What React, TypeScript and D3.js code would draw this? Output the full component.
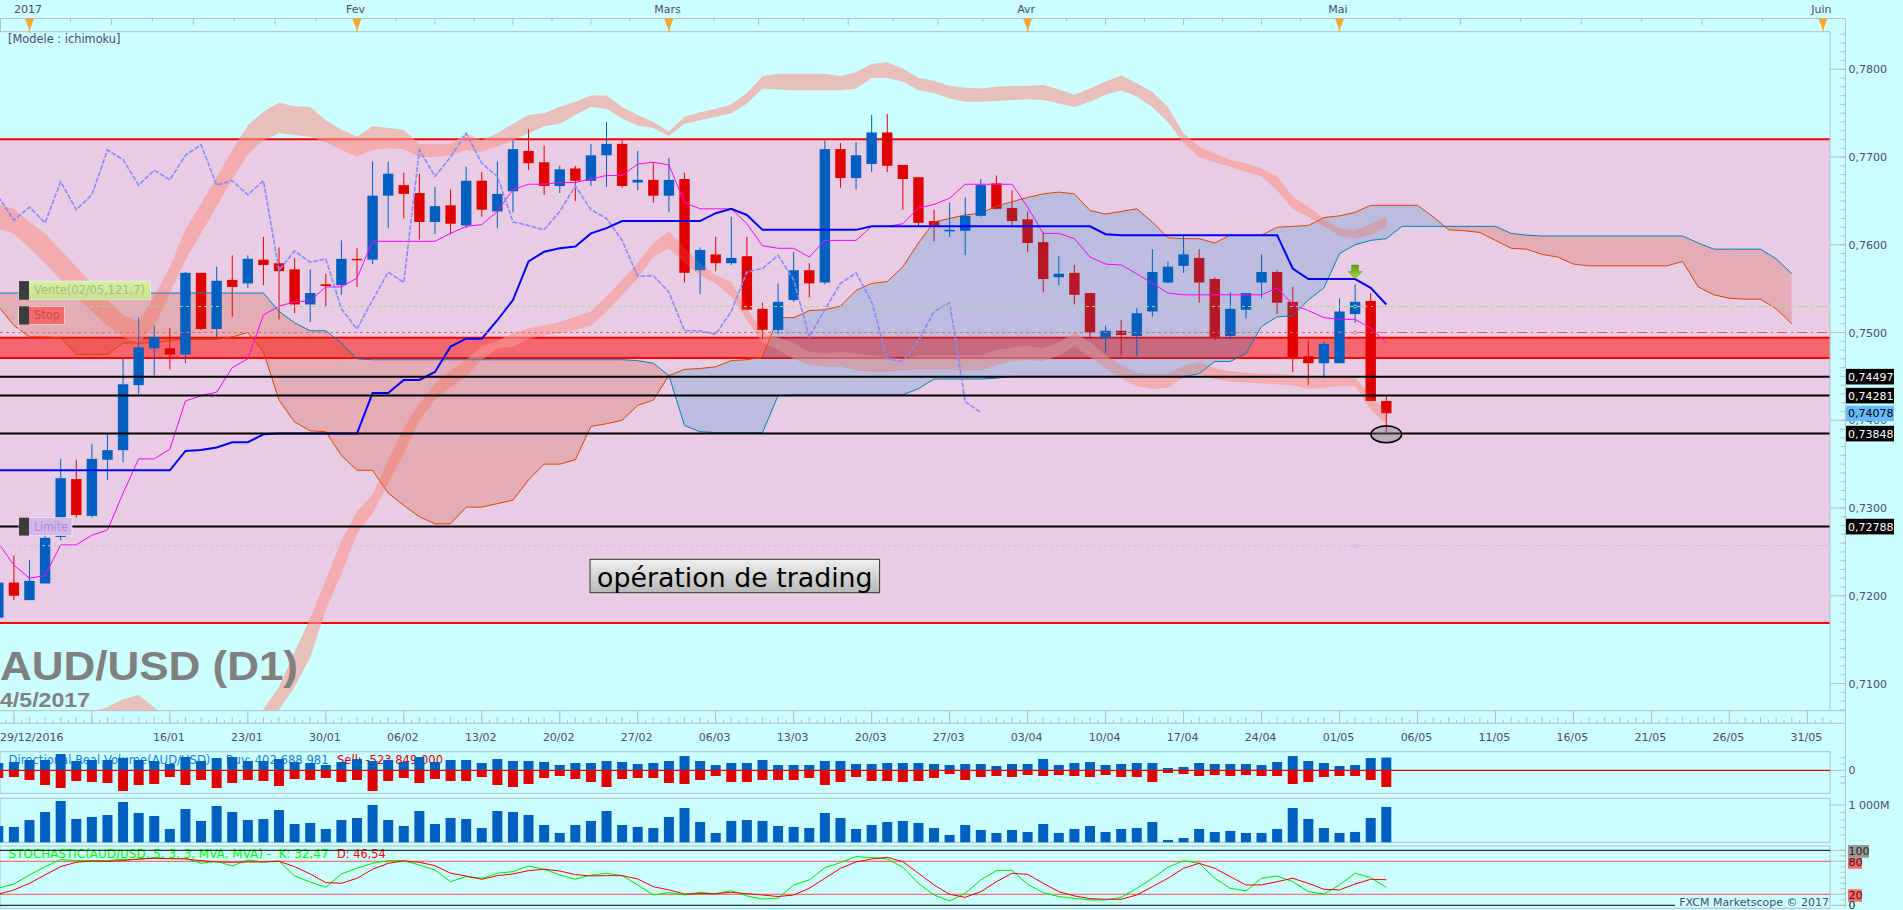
// App.tsx - AUD/USD D1 ichimoku chart (FXCM Marketscope style)
import React from 'react';
import * as d3 from 'd3';

const opens = [
  0.7175, 0.7215, 0.7195, 0.7214, 0.7267, 0.7333, 0.7291, 0.7355, 0.7366, 0.744,
  0.7482, 0.7482, 0.7475, 0.7568, 0.7504, 0.756, 0.7556, 0.7583, 0.7579, 0.7572,
  0.7532, 0.7555, 0.7554, 0.7584, 0.7583, 0.7656, 0.7668, 0.7659, 0.7626, 0.7645,
  0.7622, 0.7673, 0.7638, 0.7661, 0.7707, 0.7694, 0.7667, 0.7687, 0.7673, 0.7702,
  0.7715, 0.7671, 0.7674, 0.7656, 0.7675, 0.7571, 0.7589, 0.7579, 0.7587, 0.7527,
  0.7503, 0.7537, 0.7571, 0.7557, 0.7709, 0.7676, 0.7692, 0.7728, 0.7691, 0.7677,
  0.7627, 0.7616, 0.7616, 0.7633, 0.767, 0.7642, 0.7629, 0.7603, 0.7563, 0.7568,
  0.7545, 0.7494, 0.7502, 0.7496, 0.7524, 0.7557, 0.7576, 0.7585, 0.7561, 0.7496,
  0.7526, 0.7557, 0.7569, 0.7535, 0.7473, 0.7465, 0.7465, 0.7521, 0.7536, 0.7422,
];
const closes = [
  0.7215, 0.72, 0.7217, 0.7266, 0.7334, 0.7292, 0.7356, 0.7366, 0.7441, 0.7483,
  0.7495, 0.7475, 0.7568, 0.7504, 0.7559, 0.7552, 0.7584, 0.7577, 0.757, 0.7532,
  0.7545, 0.7553, 0.7584, 0.7583, 0.7656, 0.7681, 0.7658, 0.7626, 0.7644, 0.7624,
  0.7673, 0.764, 0.7658, 0.7709, 0.7693, 0.7667, 0.7686, 0.7673, 0.7702, 0.7715,
  0.7667, 0.7674, 0.7656, 0.7674, 0.7568, 0.7594, 0.7579, 0.7585, 0.7526, 0.7503,
  0.7535, 0.7571, 0.7556, 0.7709, 0.7676, 0.7702, 0.7728, 0.769, 0.7675, 0.7625,
  0.7622, 0.7617, 0.7633, 0.7668, 0.7641, 0.7627, 0.7602, 0.7561, 0.7567, 0.7543,
  0.75, 0.7502, 0.7497, 0.7522, 0.7569, 0.7575, 0.7589, 0.7557, 0.7495, 0.7527,
  0.7545, 0.7569, 0.7534, 0.7472, 0.7465, 0.7487, 0.7524, 0.7535, 0.7422, 0.7408,
];
const highs = [
  0.7225, 0.7246, 0.7241, 0.7271, 0.7356, 0.7355, 0.7373, 0.7384, 0.747, 0.7517,
  0.7508, 0.7505, 0.7569, 0.7568, 0.7575, 0.7588, 0.7588, 0.7609, 0.7597, 0.7585,
  0.7572, 0.7567, 0.7605, 0.7596, 0.7695, 0.7695, 0.7682, 0.7681, 0.7666, 0.7663,
  0.7689, 0.7683, 0.7695, 0.7719, 0.7732, 0.7713, 0.769, 0.769, 0.7715, 0.774,
  0.7719, 0.7707, 0.7694, 0.7699, 0.7682, 0.7597, 0.7609, 0.7632, 0.7609, 0.7534,
  0.7556, 0.7592, 0.7579, 0.7719, 0.7716, 0.7717, 0.7748, 0.7749, 0.7691, 0.7677,
  0.764, 0.7648, 0.7654, 0.7675, 0.7679, 0.7662, 0.7638, 0.7614, 0.7587, 0.7577,
  0.7545, 0.7508, 0.7514, 0.7528, 0.7595, 0.7581, 0.761, 0.7595, 0.7563, 0.7546,
  0.7545, 0.7589, 0.7571, 0.7552, 0.7491, 0.749, 0.7539, 0.7555, 0.7545, 0.7428,
];
const lows = [
  0.7168, 0.7195, 0.7195, 0.7214, 0.7263, 0.7289, 0.7289, 0.7332, 0.7352, 0.743,
  0.7451, 0.7458, 0.7465, 0.7503, 0.7494, 0.7518, 0.7551, 0.7554, 0.7515, 0.7522,
  0.7512, 0.753, 0.7543, 0.7552, 0.7578, 0.7619, 0.763, 0.7606, 0.7612, 0.7612,
  0.7619, 0.7632, 0.7619, 0.7637, 0.7685, 0.7657, 0.7659, 0.765, 0.7667, 0.7666,
  0.7665, 0.7662, 0.7648, 0.7637, 0.7557, 0.7544, 0.757, 0.7577, 0.7526, 0.7492,
  0.7498, 0.7535, 0.754, 0.7555, 0.7665, 0.7663, 0.7683, 0.7683, 0.764, 0.7621,
  0.7604, 0.7609, 0.7588, 0.7632, 0.764, 0.7621, 0.7592, 0.7546, 0.7554, 0.7532,
  0.7494, 0.7477, 0.7474, 0.7473, 0.7518, 0.7556, 0.7568, 0.7534, 0.7491, 0.7492,
  0.7516, 0.7539, 0.7521, 0.7455, 0.744, 0.7448, 0.7465, 0.7511, 0.7422, 0.7385,
];

const tenkan = [
  0.726, 0.7235, 0.722, 0.7223, 0.7258, 0.7258, 0.7269, 0.7275, 0.7317, 0.7356,
  0.7356, 0.7367, 0.7422, 0.7428, 0.7432, 0.746, 0.747, 0.752, 0.753, 0.7535,
  0.7536, 0.7552, 0.7552, 0.7562, 0.7604, 0.7604, 0.7604, 0.7604, 0.7604, 0.7613,
  0.7621, 0.7623, 0.7638, 0.7663, 0.7669, 0.7669, 0.7671, 0.7671, 0.7675, 0.7679,
  0.7679, 0.7692, 0.7694, 0.7691, 0.7648, 0.7641, 0.7641, 0.7641, 0.7624, 0.7599,
  0.7596, 0.7596, 0.7586, 0.7605, 0.7605, 0.7605, 0.7621, 0.7621, 0.7624, 0.7642,
  0.7646, 0.7653, 0.7669, 0.7669, 0.7669, 0.7669, 0.7643, 0.7613, 0.7613, 0.7607,
  0.7586, 0.7578, 0.7577, 0.7567, 0.7556, 0.7545, 0.7543, 0.7543, 0.7543, 0.7543,
  0.7543, 0.7543, 0.7551, 0.7532, 0.7525, 0.7517, 0.7515, 0.7515, 0.7505, 0.7488,
];
const kijun = [
  0.7343, 0.7343, 0.7343, 0.7343, 0.7343, 0.7343, 0.7343, 0.7343, 0.7343, 0.7343,
  0.7343, 0.7343, 0.7365, 0.7366, 0.7369, 0.7375, 0.7375, 0.7384, 0.7385, 0.7385,
  0.7385, 0.7385, 0.7385, 0.7385, 0.7431, 0.7431, 0.7446, 0.7446, 0.7455, 0.7484,
  0.7493, 0.7493, 0.7514, 0.7537, 0.7581, 0.7592, 0.7596, 0.7598, 0.7613, 0.7619,
  0.7627, 0.7627, 0.7627, 0.7627, 0.7627, 0.7627, 0.7636, 0.7641, 0.7634, 0.7617,
  0.7617, 0.7617, 0.7617, 0.7617, 0.7617, 0.7617, 0.7621, 0.7621, 0.7621, 0.7621,
  0.7621, 0.7621, 0.7621, 0.7621, 0.7621, 0.7621, 0.7621, 0.7621, 0.7621, 0.7621,
  0.7621, 0.7612, 0.7611, 0.7611, 0.7611, 0.7611, 0.7611, 0.7611, 0.7611, 0.7611,
  0.7611, 0.7611, 0.7611, 0.7573, 0.7561, 0.7561, 0.7561, 0.7561, 0.7551, 0.7532,
];
const chikou = [
  0.7655, 0.7628, 0.7643, 0.7625, 0.7672, 0.764, 0.7657, 0.7708, 0.7697, 0.7668,
  0.7685, 0.7674, 0.7702, 0.7714, 0.7668, 0.7673, 0.7657, 0.7673, 0.7571, 0.7593,
  0.758, 0.7584, 0.7527, 0.7504, 0.7537, 0.7569, 0.7557, 0.7708, 0.7678, 0.77,
  0.7727, 0.7693, 0.7678, 0.7626, 0.7622, 0.7617, 0.7638, 0.7667, 0.764, 0.763,
  0.7605, 0.7564, 0.7565, 0.7546, 0.7502, 0.7502, 0.7498, 0.7524, 0.7569, 0.7573,
  0.7588, 0.756, 0.7495, 0.7526, 0.7556, 0.7568, 0.7535, 0.747, 0.7467, 0.7491,
  0.7524, 0.7534, 0.7421, 0.7409,
];

const cloudBlue = [
  0.7545, 0.7545, 0.7545, 0.7545, 0.7545, 0.7545, 0.7545, 0.7545, 0.7545, 0.7545,
  0.7545, 0.7545, 0.7545, 0.7545, 0.7545, 0.7545, 0.7545, 0.7545, 0.7524, 0.7511,
  0.7502, 0.7502, 0.7488, 0.747, 0.7469, 0.7469, 0.7469, 0.7469, 0.7469, 0.7469,
  0.7469, 0.7469, 0.7469, 0.7469, 0.7469, 0.7469, 0.7469, 0.7469, 0.7469, 0.7469,
  0.7469, 0.7468, 0.7465, 0.7451, 0.7394, 0.7387, 0.7386, 0.7386, 0.7386, 0.7386,
  0.7428, 0.7429, 0.7429, 0.7429, 0.7429, 0.7429, 0.7429, 0.7429, 0.7429, 0.7436,
  0.7447, 0.7447, 0.7447, 0.7447, 0.7448, 0.745, 0.745, 0.745, 0.745, 0.745,
  0.745, 0.745, 0.745, 0.745, 0.745, 0.745, 0.745, 0.7453, 0.7467, 0.7467,
  0.7476, 0.7507, 0.7518, 0.7519, 0.7537, 0.7551, 0.759, 0.76, 0.7605, 0.7607,
  0.7621, 0.7621, 0.7621, 0.7621, 0.7621, 0.7621, 0.7621, 0.7613, 0.7611, 0.761,
  0.761, 0.761, 0.761, 0.761, 0.761, 0.761, 0.761, 0.761, 0.761, 0.7602,
  0.7595, 0.7595, 0.7595, 0.7595, 0.7584, 0.7567,
];
const cloudOrange = [
  0.753, 0.7508, 0.7495, 0.7495, 0.7494, 0.7475, 0.7475, 0.7475, 0.7488, 0.7488,
  0.7488, 0.7491, 0.7492, 0.7492, 0.7492, 0.7495, 0.75, 0.7478, 0.7423, 0.7398,
  0.7388, 0.7387, 0.736, 0.7343, 0.7343, 0.7317, 0.7303, 0.729, 0.7282, 0.7282,
  0.7301, 0.7301, 0.7305, 0.7309, 0.7332, 0.735, 0.735, 0.7355, 0.7393, 0.7396,
  0.74, 0.7417, 0.7423, 0.7451, 0.7458, 0.7459, 0.7461, 0.7468, 0.7469, 0.7472,
  0.7517, 0.7517, 0.7525, 0.7526, 0.753, 0.7548, 0.7556, 0.7558, 0.7575, 0.7602,
  0.7626, 0.763, 0.7634, 0.7636, 0.7644, 0.7649, 0.7654, 0.7658, 0.766, 0.7658,
  0.7639, 0.7635, 0.7638, 0.7641, 0.7626, 0.7608, 0.7607, 0.7607, 0.7602, 0.7611,
  0.7611, 0.7611, 0.762, 0.7621, 0.7622, 0.7631, 0.7633, 0.7637, 0.7645, 0.7645,
  0.7645, 0.7645, 0.7632, 0.7617, 0.7616, 0.7614, 0.7605, 0.7596, 0.7595, 0.7589,
  0.7586, 0.7578, 0.7576, 0.7576, 0.7576, 0.7576, 0.7576, 0.7576, 0.7581, 0.7552,
  0.7543, 0.7539, 0.7538, 0.7538, 0.7527, 0.751,
];

// the two wide pale ribbons
const ribbonAUpper = [
  0.7646, 0.7641, 0.7626, 0.7613, 0.7594, 0.7575, 0.7556, 0.7537, 0.752, 0.7512,
  0.7541, 0.7575, 0.7617, 0.7647, 0.7677, 0.7708, 0.7736, 0.7752, 0.7762, 0.7758,
  0.7757, 0.7742, 0.7731, 0.7723, 0.7735, 0.7733, 0.7731, 0.7715, 0.7715, 0.7715,
  0.7727, 0.7719, 0.7727, 0.7738, 0.7748, 0.775, 0.7757, 0.7763, 0.777, 0.777,
  0.7757, 0.7748, 0.774, 0.7729, 0.7746, 0.7751, 0.7755, 0.776, 0.7773, 0.7792,
  0.7795, 0.7795, 0.7795, 0.7795, 0.7792, 0.7797, 0.7806, 0.7808, 0.7801, 0.779,
  0.7787, 0.7781, 0.7779, 0.7778, 0.778, 0.7781, 0.7781, 0.7782, 0.7777, 0.7771,
  0.7778, 0.7786, 0.7793, 0.7784, 0.7774, 0.7757, 0.7727, 0.7712, 0.7704, 0.7697,
  0.7693, 0.7687, 0.7678, 0.7655, 0.7643, 0.763, 0.7619, 0.7616, 0.7624, 0.7632,
];
const ribbonALower = [
  0.7618, 0.7613, 0.7596, 0.7579, 0.756, 0.7541, 0.7524, 0.7508, 0.7495, 0.7488,
  0.7507, 0.7545, 0.7583, 0.7613, 0.7644, 0.7675, 0.7703, 0.7719, 0.7727, 0.7725,
  0.7723, 0.7717, 0.7708, 0.7701, 0.7708, 0.771, 0.7709, 0.77, 0.77, 0.7702,
  0.7708, 0.7706, 0.7712, 0.7719, 0.7727, 0.7735, 0.7738, 0.7748, 0.7757, 0.7755,
  0.7744, 0.7736, 0.7733, 0.7724, 0.7738, 0.7742, 0.7746, 0.775, 0.7761, 0.7778,
  0.7777, 0.7776, 0.7776, 0.7776, 0.7776, 0.7778, 0.779, 0.779, 0.7786, 0.7776,
  0.7773, 0.7767, 0.7763, 0.7763, 0.7764, 0.7765, 0.7766, 0.7765, 0.7761, 0.7757,
  0.7763, 0.7771, 0.7776, 0.7769, 0.7757, 0.774, 0.7716, 0.77, 0.7694, 0.7689,
  0.7683, 0.7678, 0.7662, 0.7641, 0.7632, 0.7621, 0.761, 0.7607, 0.7611, 0.762,
];
const ribbonBStart = 6;
const ribbonBUpper = [
  0.7068, 0.7073, 0.7082, 0.7087, 0.7073, 0.7054, 0.7005, 0.6967, 0.6967, 0.6986,
  0.7032, 0.7071, 0.7096, 0.7136, 0.7174, 0.7218, 0.7263, 0.7296, 0.7315, 0.7355,
  0.7391, 0.7419, 0.7442, 0.7457, 0.7469, 0.7484, 0.7491, 0.7499, 0.7505, 0.7508,
  0.7512, 0.7518, 0.7524, 0.7541, 0.756, 0.7579, 0.7602, 0.7615, 0.7596, 0.7579,
  0.7565, 0.7558, 0.7527, 0.7501, 0.7494, 0.7488, 0.7478, 0.7476, 0.7478, 0.7476,
  0.7474, 0.7472, 0.747, 0.7474, 0.7474, 0.7474, 0.7474, 0.7474, 0.748, 0.7483,
  0.7485, 0.7482, 0.7489, 0.75, 0.7489, 0.7474, 0.7463, 0.7454, 0.7453, 0.7453,
  0.7462, 0.7466, 0.7459, 0.7456, 0.7454, 0.7453, 0.7453, 0.7451, 0.7448, 0.7448,
  0.745, 0.7449, 0.7427, 0.741,
];
const ribbonBLower = [
  0.7032, 0.7039, 0.7043, 0.7043, 0.7024, 0.7005, 0.6967, 0.6929, 0.6929, 0.6948,
  0.6994, 0.7043, 0.707, 0.7096, 0.713, 0.7184, 0.7225, 0.7271, 0.7294, 0.7328,
  0.7362, 0.74, 0.7423, 0.7438, 0.745, 0.7469, 0.7482, 0.7484, 0.7493, 0.7497,
  0.7499, 0.7503, 0.7508, 0.7524, 0.7543, 0.7562, 0.7586, 0.7596, 0.7579, 0.7565,
  0.7556, 0.7541, 0.7514, 0.7488, 0.748, 0.747, 0.7463, 0.7461, 0.7461, 0.7457,
  0.7455, 0.7455, 0.7457, 0.7458, 0.7458, 0.7458, 0.7457, 0.7457, 0.7463, 0.7467,
  0.7469, 0.7467, 0.7474, 0.7484, 0.7472, 0.7459, 0.7448, 0.7439, 0.7436, 0.7437,
  0.7449, 0.7453, 0.7447, 0.7444, 0.7443, 0.7442, 0.7441, 0.744, 0.7436, 0.7437,
  0.7439, 0.7439, 0.7412, 0.7396,
];

// directional volume, millions
const buyVolume = [
  231, 263, 326, 326, 515, 294, 326, 326, 389, 326,
  294, 200, 420, 294, 389, 420, 294, 294, 357, 263,
  231, 168, 263, 357, 294, 326, 263, 420, 263, 326,
  326, 231, 357, 294, 294, 263, 168, 231, 231, 294,
  263, 200, 231, 294, 452, 294, 168, 231, 231, 326,
  168, 168, 168, 294, 294, 200, 200, 231, 231, 231,
  200, 168, 200, 200, 137, 200, 200, 357, 168, 231,
  263, 168, 200, 231, 231, 74, 105, 231, 200, 200,
  200, 168, 263, 452, 294, 231, 137, 168, 389, 403,
];
const sellVolume = [
  242, 210, 305, 462, 557, 336, 368, 399, 651, 462,
  431, 210, 462, 305, 557, 399, 305, 336, 494, 273,
  305, 242, 368, 305, 651, 336, 242, 399, 273, 336,
  336, 210, 462, 525, 431, 242, 179, 273, 368, 525,
  273, 242, 242, 399, 431, 305, 179, 368, 368, 305,
  305, 305, 242, 462, 368, 210, 336, 336, 368, 336,
  242, 116, 305, 210, 179, 210, 147, 179, 147, 179,
  210, 147, 210, 210, 368, 84, 116, 179, 147, 179,
  147, 179, 179, 431, 368, 210, 179, 179, 305, 524,
];
const totalVolume = [
  438, 411, 598, 813, 1107, 625, 679, 732, 1081, 786,
  705, 357, 893, 572, 973, 813, 598, 625, 866, 491,
  518, 357, 598, 652, 1000, 598, 438, 839, 491, 652,
  625, 384, 839, 813, 732, 464, 250, 464, 572, 839,
  464, 411, 384, 679, 920, 545, 250, 572, 598, 572,
  438, 411, 384, 786, 652, 357, 464, 545, 572, 518,
  384, 196, 464, 330, 250, 330, 277, 491, 250, 357,
  438, 277, 357, 384, 545, 63, 116, 357, 277, 304,
  250, 250, 357, 920, 625, 384, 250, 277, 652, 947,
];
const stochK = [
  30.9, 38.8, 55.2, 70.3, 83, 81.2, 81.2, 81.2, 83.6, 83.6,
  86.7, 84.8, 85.5, 76.4, 80, 71.5, 82.4, 78.8, 80.6, 53.3,
  42.4, 32.7, 57, 67.3, 76.4, 81.2, 81.2, 73.3, 64.2, 43,
  52.1, 49.1, 58.2, 61.2, 71.5, 65.5, 55.2, 47.3, 55.2, 58.2,
  53.9, 37, 18.8, 23, 18.8, 23.6, 20.6, 26.7, 17, 11.5,
  12.7, 37, 46.1, 68.5, 77.6, 88.5, 86.7, 84.2, 69.1, 40,
  18.8, 7.9, 21.8, 46.1, 63, 63.6, 38.2, 23, 15.8, 12.7,
  9.7, 9.7, 14.5, 30.9, 49.1, 69.1, 81.2, 76.4, 49.1, 30.9,
  26.1, 49.1, 53.3, 43, 24.8, 20.6, 37, 58.2, 50.3, 32.47,
];
const stochD = [
  20, 27.9, 40, 55.2, 70.3, 78.2, 80.6, 80, 81.2, 84.2,
  85.5, 84.8, 84.2, 81.2, 78.8, 78.2, 78.8, 78.8, 80, 70.3,
  57, 41.2, 40, 49.1, 65.5, 76.4, 80.6, 78.2, 72.1, 58.2,
  53.3, 47.3, 53.9, 57, 63, 65.5, 62.4, 55.8, 53.3, 53.9,
  53.9, 47.9, 33.9, 27.9, 20.6, 21.2, 21.2, 23.6, 21.2, 18.8,
  15.8, 18.8, 30.9, 49.1, 67.3, 78.8, 84.2, 87.3, 79.4, 58.2,
  37, 20, 14.5, 24.8, 43, 58.2, 56.4, 40, 24.8, 17,
  12.1, 10.9, 10.9, 18.8, 33.9, 49.1, 67.3, 76.4, 67.3, 52.1,
  37, 37, 43, 49.1, 40, 29.1, 27.9, 38.8, 47.3, 46.54,
];

const monthLabels = ['2017', 'Fev', 'Mars', 'Avr', 'Mai', 'Juin'];
const monthBars = [2, 23, 43, 66, 86, 117];
const weekLabels = [
  '16/01', '23/01', '30/01', '06/02', '13/02', '20/02', '27/02', '06/03', '13/03', '20/03', '27/03',
  '03/04', '10/04', '17/04', '24/04', '01/05', '06/05', '11/05', '16/05', '21/05', '26/05', '31/05',
];
const priceTicks = [0.78, 0.77, 0.76, 0.75, 0.74, 0.73, 0.72, 0.71];
const blackLevels = [0.74497, 0.74281, 0.73848, 0.72788];
const lastPrice = 0.74078;
const zoneTop = 0.77203;
const zoneBottom = 0.7169;
const redZone = [0.7494, 0.7471];
const signalLevels = [
  { v: 0.75296, c: '#a8d88e' },
  { v: 0.75, c: '#ff5a5a' },
  { v: 0.7257, c: '#d4b8e8' },
];

const W = 1903;
const H = 910;
const chartRight = 1830;
const axisRight = 1845.4;
const mainTop = 31.7;
const mainBottom = 710.7;
const entryBar = 87;
const blueC = '#0060c0';
const redC = '#e00000';
const borderC = '#b6bec9';
const textC = '#4a4a78';
const uiFont = '"DejaVu Sans", sans-serif';
const titleFont = '"Liberation Sans", Arial, sans-serif';

const x = d3.scaleLinear().domain([0, 89]).range([-1.7, 1386.3]);
const y = d3.scaleLinear().domain([0.78, 0.71]).range([69.3, 683.5]);
const yDir = d3.scaleLinear().domain([-651, 651]).range([791, 749.7]);
const yVol = d3.scaleLinear().domain([0, 1000]).range([842.3, 805]);
const yStoch = d3.scaleLinear().domain([0, 100]).range([905.3, 850.3]);

const lineOf = (yScale: (v: number) => number, start = 0) =>
  d3.line<number>().x((_, i) => x(i + start)).y((d) => yScale(d));

const ribbonArea = (upper: number[], lower: number[], start = 0) =>
  d3
    .area<number>()
    .x((_, i) => x(i + start))
    .y0((_, i) => y(lower[i]))
    .y1((d) => y(d))(upper) as string;

const toBottom = (series: number[]) =>
  d3.area<number>().x((_, i) => x(i)).y0(mainBottom).y1((d) => y(d))(series) as string;
const toTop = (series: number[]) =>
  d3.area<number>().x((_, i) => x(i)).y0(mainTop).y1((d) => y(d))(series) as string;

const comma = (v: number, digits: number) => v.toFixed(digits).replace('.', ',');

const Ribbons: React.FC<{ opacity: number }> = ({ opacity }) => (
  <g clipPath="url(#mainClip)" fill="rgb(250,150,143)" opacity={opacity}>
    <path d={ribbonArea(ribbonAUpper, ribbonALower)} />
    <path d={ribbonArea(ribbonBUpper, ribbonBLower, ribbonBStart)} />
  </g>
);

const Candles: React.FC<{ up: boolean }> = ({ up }) => (
  <g>
    {opens.map((o, i) => {
      const c = closes[i];
      if (c >= o !== up) return null;
      const top = y(Math.max(o, c));
      const h = Math.max(1.5, Math.abs(y(o) - y(c)));
      return (
        <g key={i} fill={up ? blueC : redC} stroke="none">
          <rect x={x(i) - 0.5} width={1} y={y(highs[i])} height={y(lows[i]) - y(highs[i])} />
          <rect x={x(i) - 5.2} width={10.4} y={top} height={h} />
        </g>
      );
    })}
  </g>
);

const PriceTag: React.FC<{ v: number; bg: string; fg: string }> = ({ v, bg, fg }) => (
  <g>
    <rect x={1846} y={y(v) - 7.8} width={48} height={15.6} fill={bg} />
    <text x={1848} y={y(v) + 4} fill={fg} fontSize={11}>
      {comma(v, 5)}
    </text>
  </g>
);

const Flag: React.FC<{
  level: number;
  w: number;
  h: number;
  bg: string;
  fg: string;
  label: string;
  labelWidth: number;
}> = ({ level, w, h, bg, fg, label, labelWidth }) => {
  const top = y(level) - h / 2;
  return (
    <g>
      <rect x={19} y={top} width={w} height={h} fill={bg} stroke="#f4f4ec" strokeWidth={0.6} />
      <rect x={19} y={top} width={10} height={h} fill="#3c3c3c" />
      <text
        x={34}
        y={top + h / 2 + 4}
        fill={fg}
        fontSize={11.5}
        textLength={labelWidth}
        lengthAdjust="spacingAndGlyphs"
      >
        {label}
      </text>
    </g>
  );
};

const App: React.FC = () => {
  const thousandths = d3.range(707, 785).map((d) => d / 1000);
  const rulerBars = d3.range(0, 118);
  const majorBars = d3.range(1, 117, 5);

  // eight divisions per month on the top ruler
  const monthTicks: { px: number; long: boolean }[] = [];
  monthBars.slice(0, -1).forEach((b, k) => {
    const next = monthBars[k + 1];
    d3.range(1, 8).forEach((n) => {
      monthTicks.push({ px: x(b + ((next - b) * n) / 8), long: n % 2 === 0 });
    });
  });

  return (
    <svg
      width={W}
      height={H}
      viewBox={`0 0 ${W} ${H}`}
      style={{ position: 'fixed', left: 0, top: 0, display: 'block' }}
      fontFamily={uiFont}
    >
      <defs>
        <clipPath id="mainClip">
          <rect x={0} y={mainTop} width={chartRight} height={mainBottom - mainTop} />
        </clipPath>
        <clipPath id="belowOrange">
          <path d={toTop(cloudOrange)} />
        </clipPath>
        <clipPath id="belowBlue">
          <path d={toTop(cloudBlue)} />
        </clipPath>
        <linearGradient id="btnFill" x1="0" y1="0" x2="0" y2="1">
          <stop offset="0" stopColor="#f0f0f0" />
          <stop offset="1" stopColor="#b8b8b8" />
        </linearGradient>
        <linearGradient id="venteFill" x1="0" y1="0" x2="0" y2="1">
          <stop offset="0" stopColor="#d8f0a8" />
          <stop offset="1" stopColor="#c4e08e" />
        </linearGradient>
        <linearGradient id="arrowFill" x1="0" y1="0" x2="0" y2="1">
          <stop offset="0" stopColor="#5a9a10" />
          <stop offset="1" stopColor="#a4d83c" />
        </linearGradient>
      </defs>

      <rect width={W} height={H} fill="#ccffff" />

      {/* zones */}
      <rect x={0} y={y(zoneTop)} width={chartRight} height={y(zoneBottom) - y(zoneTop)} fill="#e8cce4" />
      <rect x={0} y={y(redZone[0])} width={chartRight} height={y(redZone[1]) - y(redZone[0])} fill="#f5666f" />
      <g stroke="#ff0000" strokeWidth={2}>
        {[zoneTop, zoneBottom, redZone[0], redZone[1]].map((v) => (
          <line key={v} x1={0} x2={chartRight} y1={y(v)} y2={y(v)} />
        ))}
      </g>

      <Ribbons opacity={0.53} />
      <g clipPath="url(#mainClip)">
        <Candles up={false} />

        {/* kumo, drawn over the falling candles */}
        <path d={toBottom(cloudBlue)} clipPath="url(#belowOrange)" fill="rgb(212,44,0)" fillOpacity={0.2} />
        <path d={toBottom(cloudOrange)} clipPath="url(#belowBlue)" fill="rgb(0,126,200)" fillOpacity={0.19} />
        <path d={lineOf(y)(cloudBlue) as string} fill="none" stroke="#0080c0" strokeWidth={1} />
        <path d={lineOf(y)(cloudOrange) as string} fill="none" stroke="#dd4400" strokeWidth={1} />

        <Candles up={true} />
        <Ribbons opacity={0.15} />

        <path d={lineOf(y)(tenkan) as string} fill="none" stroke="#ff00ff" strokeWidth={1} />
        <path
          d={lineOf(y)(chikou) as string}
          fill="none"
          stroke="#8888ff"
          strokeWidth={1.6}
          strokeDasharray="5 1.5"
        />
        <path d={lineOf(y)(kijun) as string} fill="none" stroke="#0000ff" strokeWidth={2} />

        {/* order levels: fine dash up to the entry bar, dash-dot after it */}
        {signalLevels.map((l) => (
          <g key={l.v} stroke={l.c} strokeWidth={1} fill="none">
            <line x1={0} x2={x(entryBar) - 2} y1={y(l.v)} y2={y(l.v)} strokeDasharray="3 3" />
            <line x1={x(entryBar) + 2} x2={chartRight} y1={y(l.v)} y2={y(l.v)} strokeDasharray="10 4 2 4" />
            <circle cx={x(entryBar)} cy={y(l.v)} r={1.6} />
          </g>
        ))}

        <g stroke="#000" strokeWidth={2}>
          {blackLevels.map((v) => (
            <line key={v} x1={0} x2={chartRight} y1={y(v)} y2={y(v)} />
          ))}
        </g>

        <ellipse
          cx={x(89)}
          cy={y(blackLevels[2]) + 0.7}
          rx={15.3}
          ry={8.4}
          fill="#808080"
          fillOpacity={0.4}
          stroke="#000"
          strokeWidth={1.6}
        />
      </g>

      <path
        transform={`translate(${x(entryBar)},${y(kijun[entryBar]) - 0.5})`}
        d="M0,0 L-7,-7 L-3.5,-7 L-3.5,-13.5 L3.5,-13.5 L3.5,-7 L7,-7 Z"
        fill="url(#arrowFill)"
        stroke="#5a9a10"
        strokeWidth={0.5}
      />

      {/* order flags */}
      <line x1={19} x2={19} y1={y(signalLevels[0].v)} y2={y(signalLevels[1].v)} stroke="#f4f4f4" strokeWidth={0.8} />
      <Flag level={0.7548} w={131.6} h={18.7} bg="url(#venteFill)" fg="#9ebf75" label="Vente(02/05,121,7)" labelWidth={111} />
      <Flag level={0.75195} w={45.5} h={18.3} bg="#f56a6a" fg="#c84c4c" label="Stop" labelWidth={26} />
      <Flag level={0.72788} w={53} h={18} bg="#d2b8e8" fg="#b28ad6" label="Limite" labelWidth={34} />

      <text x={8} y={43} fontSize={11.4} fill={textC}>
        [Modele : ichimoku]
      </text>

      <text
        x={0}
        y={680}
        fontFamily={titleFont}
        fontWeight={700}
        fontSize={40}
        fill="#808080"
        textLength={298}
        lengthAdjust="spacingAndGlyphs"
      >
        AUD/USD (D1)
      </text>
      <text
        x={0}
        y={706.5}
        fontFamily={titleFont}
        fontWeight={700}
        fontSize={20}
        fill="#808080"
        textLength={90}
        lengthAdjust="spacingAndGlyphs"
      >
        4/5/2017
      </text>

      <rect x={590} y={559.3} width={289.6} height={33.4} fill="url(#btnFill)" stroke="#333" strokeWidth={1} />
      <text x={597} y={586.5} fontSize={26.5} fill="#000" textLength={275.6} lengthAdjust="spacingAndGlyphs">
        opération de trading
      </text>

      {/* top month ruler */}
      <g stroke={borderC} strokeWidth={1} fill="none">
        <line x1={0} x2={axisRight} y1={18.5} y2={18.5} />
        <line x1={0} x2={chartRight} y1={mainTop} y2={mainTop} />
        <line x1={0.5} x2={0.5} y1={18.5} y2={mainTop} />
        <line x1={axisRight} x2={axisRight} y1={18.5} y2={H - 2} />
        <line x1={chartRight} x2={chartRight} y1={mainTop} y2={mainBottom} />
        {monthTicks.map((t, i) => (
          <line key={i} x1={t.px} x2={t.px} y1={18.5} y2={t.long ? 25 : 22} />
        ))}
      </g>
      {monthBars.map((b, i) => (
        <g key={b}>
          <path
            transform={`translate(${x(b)},18.5)`}
            d="M-4.5,0 L4.5,0 L0.8,10 L0.5,14 L-0.5,14 L-0.8,10 Z"
            fill="#f8a830"
          />
          <text x={x(b) - 1.5} y={13} textAnchor="middle" fontSize={11} fill={textC}>
            {monthLabels[i]}
          </text>
        </g>
      ))}

      {/* price axis */}
      <g stroke={borderC} strokeWidth={1}>
        {thousandths.map((v) => (
          <line key={v} x1={1840.5} x2={axisRight} y1={y(v)} y2={y(v)} />
        ))}
        {priceTicks.map((v) => (
          <line key={v} x1={chartRight} x2={axisRight} y1={y(v)} y2={y(v)} />
        ))}
      </g>
      {priceTicks.map((v) => (
        <text key={v} x={1848.5} y={y(v) + 4} fontSize={11} fill={textC}>
          {comma(v, 4)}
        </text>
      ))}
      {blackLevels.map((v) => (
        <PriceTag key={v} v={v} bg="#000" fg="#fff" />
      ))}
      <PriceTag v={lastPrice} bg="#66bbff" fg="#000" />

      {/* date ruler */}
      <g stroke={borderC} strokeWidth={1}>
        <line x1={0} x2={axisRight} y1={mainBottom} y2={mainBottom} />
        <line x1={0} x2={axisRight} y1={723.3} y2={723.3} />
        {rulerBars.map((i) => (
          <g key={i}>
            <line x1={x(i)} x2={x(i)} y1={717} y2={723.3} />
            <line x1={x(i + 0.5)} x2={x(i + 0.5)} y1={720} y2={723.3} />
          </g>
        ))}
        {majorBars.map((i) => (
          <line key={i} x1={x(i)} x2={x(i)} y1={mainBottom} y2={723.3} />
        ))}
      </g>
      <text x={0} y={741} fontSize={11} fill={textC}>
        29/12/2016
      </text>
      {weekLabels.map((l, k) => (
        <text key={l} x={x(11 + k * 5) - 1} y={741} textAnchor="middle" fontSize={11} fill={textC}>
          {l}
        </text>
      ))}

      {/* directional volume panel */}
      <rect x={0} y={751.7} width={chartRight} height={41.6} fill="none" stroke={borderC} />
      <text
        x={8.6}
        y={763.5}
        fontSize={11.5}
        fill="#2080e0"
        xmlSpace="preserve"
        textLength={320}
        lengthAdjust="spacingAndGlyphs"
      >
        Directional Real Volume(AUD/USD) -  Buy: 402 688 981
      </text>
      <text x={337} y={763.5} fontSize={11.5} fill={redC} textLength={106} lengthAdjust="spacingAndGlyphs">
        Sell: -523 849 000
      </text>
      {buyVolume.map((b, i) => (
        <g key={i}>
          <rect x={x(i) - 5} width={10} y={yDir(b)} height={yDir(0) - yDir(b)} fill={blueC} />
          <rect x={x(i) - 5} width={10} y={yDir(0)} height={yDir(-sellVolume[i]) - yDir(0)} fill={redC} />
        </g>
      ))}
      <line x1={0} x2={chartRight} y1={yDir(0)} y2={yDir(0)} stroke="#e00000" strokeWidth={1.2} />
      <g stroke={borderC}>
        {[-400, -200, 200, 400].map((v) => (
          <line key={v} x1={1840.5} x2={axisRight} y1={yDir(v)} y2={yDir(v)} />
        ))}
        <line x1={chartRight} x2={axisRight} y1={yDir(0)} y2={yDir(0)} />
      </g>
      <text x={1848.5} y={yDir(0) + 4} fontSize={11} fill={textC}>
        0
      </text>

      {/* total volume panel */}
      <rect x={0} y={798.3} width={chartRight} height={44} fill="none" stroke={borderC} />
      {totalVolume.map((v, i) => (
        <rect key={i} x={x(i) - 5} width={10} y={yVol(v)} height={yVol(0) - yVol(v)} fill={blueC} />
      ))}
      <g stroke={borderC}>
        {[200, 400, 600, 800].map((v) => (
          <line key={v} x1={1840.5} x2={axisRight} y1={yVol(v)} y2={yVol(v)} />
        ))}
        <line x1={chartRight} x2={axisRight} y1={yVol(1000)} y2={yVol(1000)} />
      </g>
      <text x={1848.5} y={yVol(1000) + 4} fontSize={11} fill={textC}>
        1 000M
      </text>

      {/* stochastic panel */}
      <rect x={0} y={846} width={chartRight} height={62.3} fill="none" stroke={borderC} />
      <text
        x={8.6}
        y={858}
        fontSize={11.5}
        fill="#00ff00"
        xmlSpace="preserve"
        textLength={320}
        lengthAdjust="spacingAndGlyphs"
      >
        STOCHASTIC(AUD/USD, 5, 3, 3, MVA, MVA) -  K: 32,47
      </text>
      <text x={337} y={858} fontSize={11.5} fill="#ff0000" textLength={48.7} lengthAdjust="spacingAndGlyphs">
        D: 46,54
      </text>
      <g stroke="#000" strokeWidth={1}>
        <line x1={0} x2={chartRight} y1={yStoch(100)} y2={yStoch(100)} />
        <line x1={0} x2={1675} y1={yStoch(0)} y2={yStoch(0)} />
      </g>
      <g stroke="#ff5050" strokeWidth={1}>
        <line x1={0} x2={chartRight} y1={yStoch(80)} y2={yStoch(80)} />
        <line x1={0} x2={chartRight} y1={yStoch(20)} y2={yStoch(20)} />
      </g>
      <path d={lineOf(yStoch)(stochK) as string} fill="none" stroke="#00e800" strokeWidth={1} />
      <path d={lineOf(yStoch)(stochD) as string} fill="none" stroke="#f00000" strokeWidth={1} />
      <g stroke={borderC}>
        {d3.range(0, 101, 10).map((v) => (
          <line key={v} x1={1840.5} x2={axisRight} y1={yStoch(v)} y2={yStoch(v)} />
        ))}
        {[0, 20, 80, 100].map((v) => (
          <line key={v} x1={chartRight} x2={axisRight} y1={yStoch(v)} y2={yStoch(v)} />
        ))}
      </g>
      <rect x={1848} y={845} width={21} height={12.7} fill="#999" />
      <rect x={1848} y={857.7} width={14} height={11} fill="#ff6666" />
      <rect x={1848} y={889.3} width={14} height={12.4} fill="#ff6666" />
      {[100, 80, 20, 0].map((v) => (
        <text key={v} x={1848.5} y={v === 0 ? 908.5 : yStoch(v) + 5} fontSize={11} fill="#222">
          {v}
        </text>
      ))}
      <text x={1829} y={906} textAnchor="end" fontSize={11} fill={textC}>
        FXCM Marketscope © 2017
      </text>
    </svg>
  );
};

export default App;
